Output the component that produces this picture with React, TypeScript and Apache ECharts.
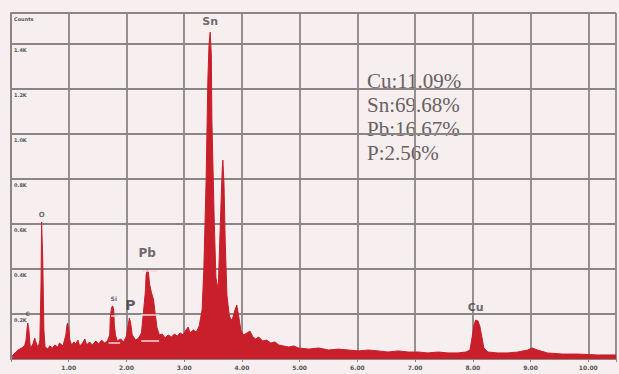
import React, { useEffect, useRef } from "react";
import * as echarts from "echarts";

// Spectrum outline (energy in keV, intensity in counts)
const energyKeV = [
  0.02, 0.05, 0.12, 0.19, 0.24, 0.26, 0.28, 0.29, 0.31, 0.33, 0.34, 0.38, 0.4, 0.41, 0.43, 0.47, 0.5, 0.52, 0.53,
  0.55, 0.57, 0.59, 0.64, 0.67, 0.72, 0.76, 0.81, 0.84, 0.9, 0.95, 0.97, 0.98, 1.0, 1.02, 1.05, 1.09, 1.12, 1.16,
  1.19, 1.24, 1.28, 1.31, 1.36, 1.41, 1.47, 1.52, 1.57, 1.62, 1.67, 1.71, 1.72, 1.74, 1.76, 1.78, 1.79, 1.81, 1.84,
  1.9, 1.95, 2.0, 2.03, 2.05, 2.07, 2.1, 2.16, 2.21, 2.26, 2.29, 2.33, 2.34, 2.36, 2.38, 2.4, 2.43, 2.47, 2.5, 2.53,
  2.57, 2.62, 2.67, 2.72, 2.78, 2.83, 2.88, 2.93, 2.98, 3.03, 3.07, 3.1, 3.16, 3.21, 3.26, 3.31, 3.34, 3.38, 3.41,
  3.43, 3.45, 3.47, 3.48, 3.52, 3.55, 3.59, 3.6, 3.64, 3.66, 3.67, 3.69, 3.71, 3.74, 3.78, 3.81, 3.84, 3.88, 3.91,
  3.95, 3.98, 4.03, 4.09, 4.14, 4.19, 4.24, 4.29, 4.36, 4.43, 4.5, 4.57, 4.64, 4.72, 4.81, 4.9, 4.98, 5.16, 5.33,
  5.5, 5.67, 5.84, 6.02, 6.19, 6.36, 6.53, 6.71, 6.88, 7.05, 7.22, 7.4, 7.57, 7.74, 7.88, 7.95, 7.98, 8.02, 8.05,
  8.09, 8.12, 8.16, 8.19, 8.26, 8.43, 8.6, 8.78, 8.95, 9.03, 9.12, 9.29, 9.55, 9.81, 10.16, 10.48,
];
const countsValues = [
  13, 22, 40, 49, 62, 84, 138, 160, 129, 62, 49, 67, 84, 93, 76, 49, 84, 333, 609,
  440, 129, 53, 44, 58, 49, 62, 53, 71, 58, 107, 151, 160, 138, 84, 62, 76, 67, 84,
  58, 71, 89, 62, 76, 62, 80, 67, 84, 71, 80, 107, 182, 227, 236, 218, 151, 107, 80,
  89, 76, 102, 151, 182, 164, 107, 84, 93, 116, 196, 307, 373, 396, 387, 333, 298, 262, 196, 138,
  107, 111, 93, 107, 98, 111, 102, 116, 107, 129, 142, 116, 129, 120, 147, 218, 396, 795, 1240,
  1395, 1453, 1351, 1062, 618, 360, 307, 396, 707, 849, 884, 773, 529, 284, 196, 173, 182, 218, 240,
  182, 129, 107, 116, 124, 98, 89, 98, 80, 84, 71, 76, 62, 58, 53, 58, 49, 44, 49,
  40, 44, 40, 36, 40, 36, 31, 36, 31, 31, 27, 31, 27, 27, 31, 40, 84, 151, 173,
  169, 147, 93, 49, 31, 27, 27, 31, 40, 49, 40, 27, 22, 22, 18, 18,
];

// Peak identification labels
const peakNames = ["C", "O", "Si", "P", "Pb", "Sn", "Cu"];
const peakLabelKeV = [0.29, 0.53, 1.78, 2.07, 2.36, 3.45, 8.05];
const peakLabelCounts = [204, 640, 267, 240, 471, 1502, 227];

// Peak marker bars (centre keV, counts level, half width keV)
const markerKeV = [1.79, 1.79, 2.41, 2.41, 2.41];
const markerCounts = [191, 71, 391, 196, 80];
const markerHalfWidth = [0.06, 0.1, 0.13, 0.16, 0.155];

// Composition text
const compositionLines = ["Cu:11.09%", "Sn:69.68%", "Pb:16.67%", "P:2.56%"];

// Axes
const xMax = 10.48;
const yMax = 1538;
const yStep = 200;

const BG = "#f7eef0";
const GRID = "#8a8586";
const RED = "#c81f2a";

export default function App() {
  const ref = useRef<HTMLDivElement>(null);

  useEffect(() => {
    if (!ref.current) return;
    const chart = echarts.init(ref.current, undefined, { renderer: "svg" });

    const labelStyles: Record<string, any> = {
      C: { fontSize: 6 },
      O: { fontSize: 7 },
      Si: { fontSize: 6 },
      P: { fontSize: 14, color: "#3e3a3b" },
      Pb: { fontSize: 12 },
      Sn: { fontSize: 11 },
      Cu: { fontSize: 11 },
    };

    const option: any = {
      animation: false,
      backgroundColor: BG,
      grid: { left: 11, right: 0, top: 13, bottom: 15, containLabel: false },
      xAxis: {
        type: "value",
        min: 0,
        max: xMax,
        interval: 1,
        axisLine: { show: true, lineStyle: { color: GRID, width: 1.8 } },
        axisTick: { show: true, length: 3, lineStyle: { color: GRID, width: 1 } },
        splitLine: { show: true, lineStyle: { color: GRID, width: 1.8 } },
        axisLabel: {
          fontSize: 6,
          fontWeight: "bold",
          color: "#555",
          fontFamily: "DejaVu Sans",
          margin: 5,
          formatter: (v: number) => (v === 0 || v > 10.2 ? "" : v.toFixed(2)),
        },
      },
      yAxis: {
        type: "value",
        min: 0,
        max: yMax,
        interval: yStep,
        axisLine: { show: true, lineStyle: { color: GRID, width: 1.8 } },
        axisTick: { show: false },
        splitLine: { show: true, lineStyle: { color: GRID, width: 1.8 } },
        axisLabel: {
          inside: true,
          fontSize: 5,
          fontWeight: "bold",
          color: "#555",
          fontFamily: "DejaVu Sans",
          verticalAlign: "top",
          margin: 3,
          padding: [3, 0, 0, 0],
          formatter: (v: number) =>
            v === 0 ? "" : v >= yMax ? "Counts" : (v / 1000).toFixed(1) + "K",
        },
      },
      series: [
        {
          type: "line",
          data: energyKeV.map((e, i) => [e, countsValues[i]]),
          symbol: "none",
          lineStyle: { color: RED, width: 1 },
          areaStyle: { color: RED, opacity: 1 },
          z: 3,
        },
        {
          type: "lines",
          coordinateSystem: "cartesian2d",
          polyline: false,
          z: 4,
          lineStyle: { color: "#f4d6d8", width: 1.5, opacity: 1 },
          data: markerKeV.map((k, i) => ({
            coords: [
              [k - markerHalfWidth[i], markerCounts[i]],
              [k + markerHalfWidth[i], markerCounts[i]],
            ],
          })),
        },
        {
          type: "scatter",
          symbolSize: 0,
          z: 5,
          data: peakNames.map((n, i) => ({
            name: n,
            value: [peakLabelKeV[i], peakLabelCounts[i]],
            label: labelStyles[n],
          })),
          label: {
            show: true,
            position: "inside",
            formatter: (p: any) => p.name,
            color: "#4a4446",
            fontWeight: "bold",
            fontFamily: "DejaVu Sans",
          },
        },
      ],
      graphic: [
        {
          type: "group",
          left: 364,
          top: 66,
          children: [
            {
              type: "rect",
              shape: { x: 0, y: 0, width: 108, height: 106 },
              style: { fill: BG },
            },
            ...compositionLines.map((t, i) => ({
              type: "text",
              x: 3,
              y: 15 + i * 24,
              style: {
                text: t,
                fill: "#6a6163",
                font: "21px 'Liberation Serif'",
                textVerticalAlign: "middle",
                verticalAlign: "middle",
              },
            })),
          ],
        },
      ],
    };

    chart.setOption(option);
    return () => chart.dispose();
  }, []);

  return (
    <div
      ref={ref}
      style={{ position: "fixed", left: 0, top: 0, width: 619, height: 374, background: BG }}
    />
  );
}
